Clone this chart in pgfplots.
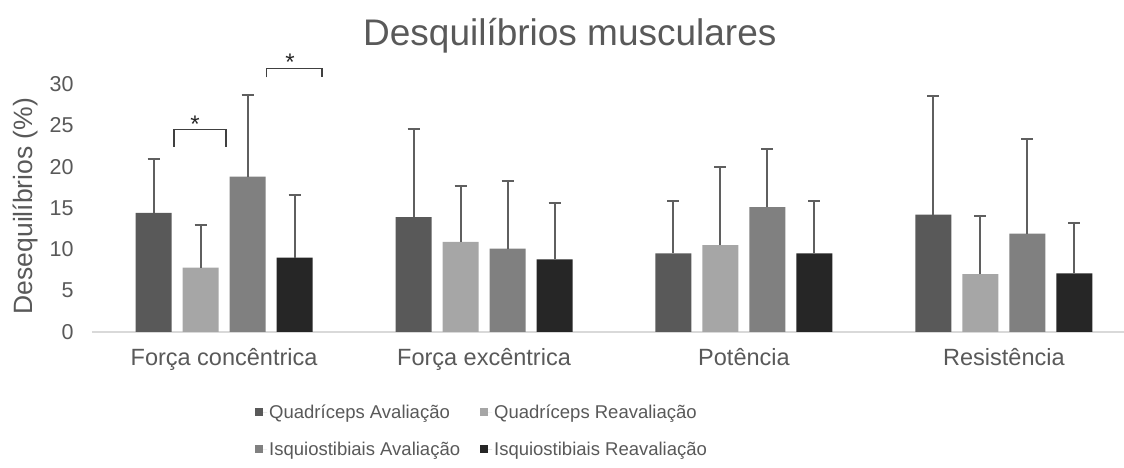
\documentclass[border=0pt]{standalone}
\usepackage{fontspec}
\setmainfont{Liberation Sans}
\usepackage{pgfplots}
\usepackage{pgfplotstable}
\pgfplotsset{compat=1.18}
\definecolor{qa}{HTML}{595959}
\definecolor{qr}{HTML}{A6A6A6}
\definecolor{ia}{HTML}{808080}
\definecolor{ir}{HTML}{262626}
\definecolor{txt}{HTML}{595959}
\definecolor{errc}{HTML}{5F5F5F}

\pgfplotstableread{
x y e
0 14.4 6.5
1 13.9 10.6
2 9.5 6.4
3 14.2 14.3
}\tqa
\pgfplotstableread{
x y e
0 7.8 5.1
1 10.9 6.8
2 10.5 9.4
3 7.0 7.0
}\tqr
\pgfplotstableread{
x y e
0 18.8 9.9
1 10.1 8.2
2 15.1 7.0
3 11.9 11.5
}\tia
\pgfplotstableread{
x y e
0 9.0 7.6
1 8.8 6.8
2 9.5 6.3
3 7.1 6.1
}\tir

\pgfplotsset{
  sqlegend/.style={legend image code/.code={\path (0pt,0pt) -- (12pt,0pt); \fill[##1] (0pt,-4pt) rectangle (8pt,4pt);}},
  myerr/.style={error bars/.cd, y dir=plus, y explicit,
     error bar style={color=errc, line width=2pt},
     error mark options={rotate=90, mark size=6pt, line width=2pt, color=errc}},
}

\begin{document}
\begin{tikzpicture}[x=1pt,y=1pt]
\path[use as bounding box] (0,0) rectangle (1124,468);
\begin{axis}[
  at={(92pt,136pt)}, anchor=south west,
  scale only axis, width=1032pt, height=248pt,
  ymin=0, ymax=30, xmin=-0.508, xmax=3.462,
  clip=false,
  ybar=11pt, bar width=36pt,
  xtick={0,1,2,3},
  xticklabels={Força concêntrica, Força excêntrica, Potência, Resistência},
  ytick={0,5,10,15,20,25,30},
  major tick length=0pt,
  axis x line=bottom, axis y line=left,
  y axis line style={draw=none},
  x axis line style={draw=black!15, line width=1.5pt, -},
  /pgf/number format/assume math mode=true,
  tick label style={text=txt},
  yticklabel style={font=\fontsize{21.5}{24}\selectfont, xshift=-15pt},
  xticklabel style={font=\fontsize{23.5}{26}\selectfont, yshift=-13pt},
  ylabel={Desequilíbrios (\%)},
  ylabel style={font=\fontsize{26.5}{30}\selectfont, text=txt, at={(axis description cs:-0.064,0.508)}, anchor=center},
  title={Desquilíbrios musculares},
  title style={font=\fontsize{37}{40}\selectfont, text=txt, at={(axis description cs:0.463,1.17)}, anchor=center},
  legend columns=2,
  legend cell align=left,
  legend style={draw=none, at={(axis description cs:0.378,-0.398)}, anchor=center,
     font=\fontsize{18.5}{22}\selectfont, text=txt, row sep=18pt,
     /tikz/every even column/.append style={column sep=18pt}},
]
\addplot[fill=qa, draw=none, sqlegend, myerr] table[x=x, y=y, y error=e] {\tqa};
\addplot[fill=qr, draw=none, sqlegend, myerr] table[x=x, y=y, y error=e] {\tqr};
\addplot[fill=ia, draw=none, sqlegend, myerr] table[x=x, y=y, y error=e] {\tia};
\addplot[fill=ir, draw=none, sqlegend, myerr] table[x=x, y=y, y error=e] {\tir};
\legend{Quadríceps Avaliação, Quadríceps Reavaliação, Isquiostibiais Avaliação, Isquiostibiais Reavaliação}

\draw[black!75, line width=1.5pt] (axis cs:-0.192,22.4) -- (axis cs:-0.192,24.5) -- (axis cs:0.007,24.5) -- (axis cs:0.007,22.4);
\draw[black!75, line width=1.5pt] (axis cs:0.164,30.8) -- (axis cs:0.164,31.9) -- (axis cs:0.376,31.9) -- (axis cs:0.376,30.8);
\node[font=\fontsize{24}{24}\selectfont, text=black!85, anchor=center] at (axis cs:-0.112,25.1) {*};
\node[font=\fontsize{24}{24}\selectfont, text=black!85, anchor=center] at (axis cs:0.254,32.6) {*};
\end{axis}
\end{tikzpicture}
\end{document}
